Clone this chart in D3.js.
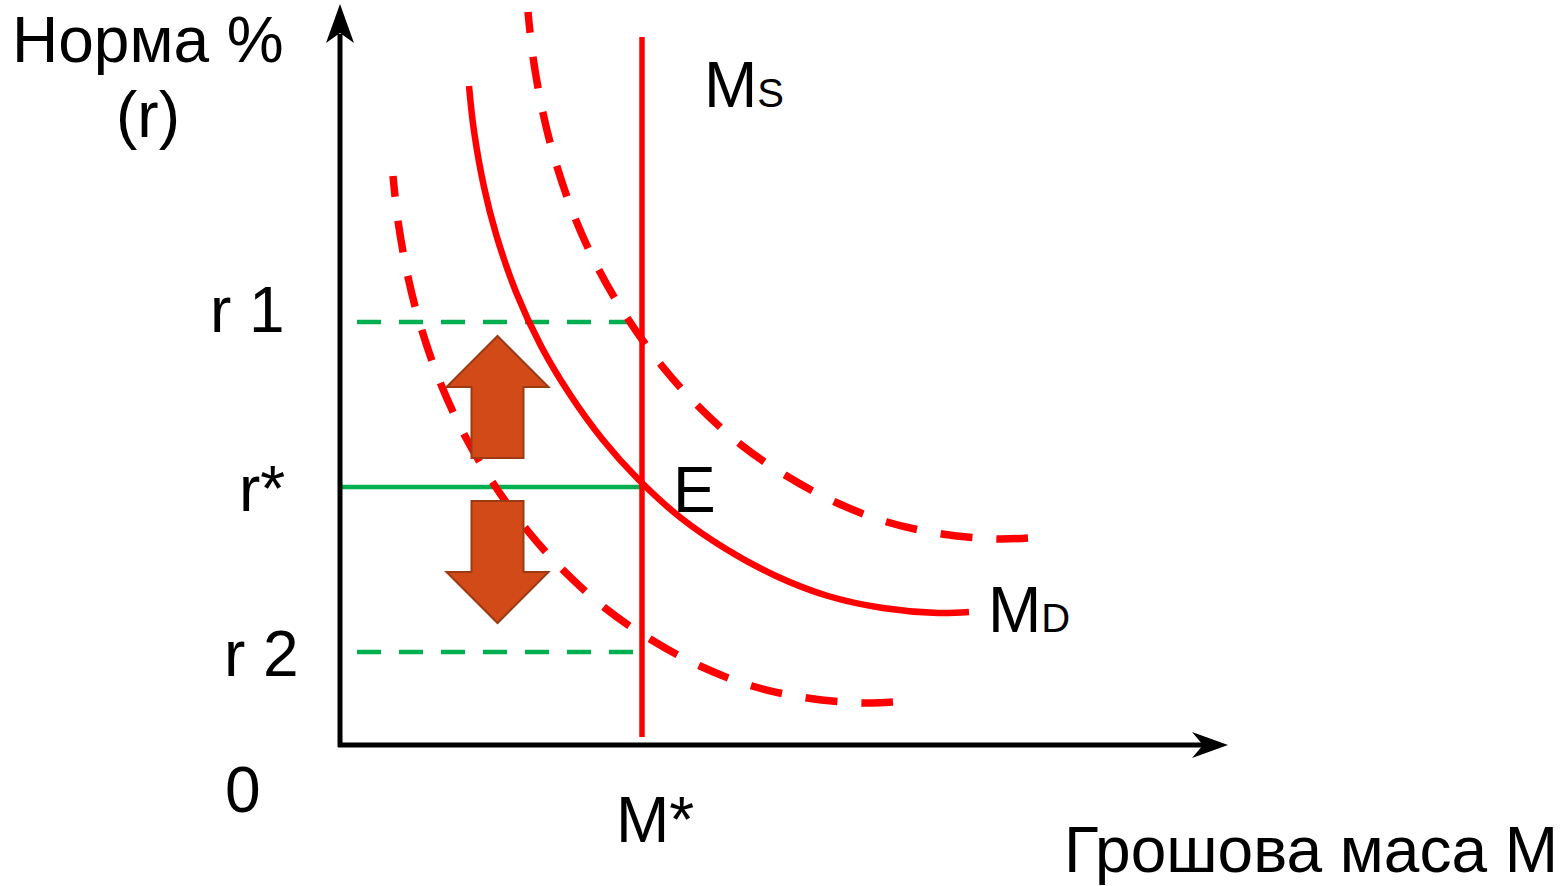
<!DOCTYPE html>
<meta charset="utf-8">
<style>

body {
  margin: 0;
  background: #fff;
}

svg {
  font-family: "Liberation Sans", Arial, sans-serif;
}

</style>
<svg width="1563" height="886"></svg>
<script src="https://d3js.org/d3.v7.min.js"></script>
<script>

// curves: [money, rate]
var demand = [
  [129, 659], [134, 614], [144, 558], [156, 511], [176, 453], [201, 399],
  [229, 352], [263, 305], [298, 266], [341, 227], [386, 196], [436, 169],
  [488, 149], [543, 137], [598, 132], [629, 133]
];

var demandHigh = [
  [188, 733], [193, 688], [203, 632], [215, 585], [235, 527], [260, 473],
  [288, 426], [322, 379], [357, 340], [400, 301], [445, 270], [495, 243],
  [547, 223], [602, 211], [657, 206], [688, 207]
];

var demandLow = [
  [53, 569], [58, 524], [68, 468], [80, 421], [100, 363], [125, 309],
  [153, 262], [187, 215], [222, 176], [265, 137], [310, 106], [360, 79],
  [412, 59], [467, 47], [522, 42], [553, 43]
];

var moneyStar = 302,
    supplyFrom = 8,
    supplyTo = 708;

var rateNames = ["r 1", "r*", "r 2"],
    rateValues = [423, 258, 93],
    rateFrom = [17, 2, 17],
    rateTo = [292, 302, 293],
    rateDashed = [true, false, true];

// block arrows: money position, start rate, end rate
var shifts = [
  [157.5, 287, 409],
  [157.5, 244, 122]
];

var svg = d3.select("svg");

var x = d3.scaleLinear().domain([0, 888]).range([340, 1228]),
    y = d3.scaleLinear().domain([0, 740]).range([745, 5]);

var line = d3.line()
    .x(function(d) { return x(d[0]); })
    .y(function(d) { return y(d[1]); })
    .curve(d3.curveCatmullRom.alpha(0.5));

// rate lines
svg.selectAll(".rate")
  .data(rateValues)
  .enter().append("line")
    .attr("class", "rate")
    .attr("x1", function(d, i) { return x(rateFrom[i]); })
    .attr("x2", function(d, i) { return x(rateTo[i]); })
    .attr("y1", function(d) { return y(d); })
    .attr("y2", function(d) { return y(d); })
    .attr("stroke", "#00b050")
    .attr("stroke-width", 4.5)
    .attr("stroke-dasharray", function(d, i) { return rateDashed[i] ? "24,18" : null; });

// shifted demand curves
svg.selectAll(".shift")
  .data([demandHigh, demandLow])
  .enter().append("path")
    .attr("class", "shift")
    .attr("d", line)
    .attr("fill", "none")
    .attr("stroke", "#ff0000")
    .attr("stroke-width", 7.5)
    .attr("stroke-dasharray", "32,24")
    .attr("stroke-dashoffset", 11);

svg.append("path")
    .attr("d", line(demand))
    .attr("fill", "none")
    .attr("stroke", "#ff0000")
    .attr("stroke-width", 6.5);

svg.append("line")
    .attr("x1", x(moneyStar))
    .attr("x2", x(moneyStar))
    .attr("y1", y(supplyFrom))
    .attr("y2", y(supplyTo))
    .attr("stroke", "#ff0000")
    .attr("stroke-width", 5.5);

// block arrows
svg.selectAll(".arrow")
  .data(shifts)
  .enter().append("path")
    .attr("class", "arrow")
    .attr("d", function(d) {
      var cx = x(d[0]), y0 = y(d[1]), y1 = y(d[2]),
          dir = y1 > y0 ? 1 : -1,
          hb = y1 - dir * 51;
      return "M" + (cx - 26) + "," + y0 + "L" + (cx - 26) + "," + hb +
        "L" + (cx - 51) + "," + hb + "L" + cx + "," + y1 +
        "L" + (cx + 51) + "," + hb + "L" + (cx + 26) + "," + hb +
        "L" + (cx + 26) + "," + y0 + "Z";
    })
    .attr("fill", "#d14a18")
    .attr("stroke", "#9c3a16")
    .attr("stroke-width", 2);

// axes
var x0 = x(0), y0 = y(0), xEnd = x(888), yEnd = y(741);

svg.append("line")
    .attr("x1", x0).attr("y1", y0 + 2)
    .attr("x2", x0).attr("y2", yEnd + 30)
    .attr("stroke", "#000")
    .attr("stroke-width", 5);

svg.append("path")
    .attr("d", "M" + x0 + "," + yEnd + "L" + (x0 + 14) + "," + (yEnd + 39) +
      "L" + x0 + "," + (yEnd + 29) + "L" + (x0 - 14) + "," + (yEnd + 39) + "Z");

svg.append("line")
    .attr("x1", x0 - 2).attr("y1", y0)
    .attr("x2", xEnd - 25).attr("y2", y0)
    .attr("stroke", "#000")
    .attr("stroke-width", 5);

svg.append("path")
    .attr("d", "M" + xEnd + "," + y0 + "L" + (xEnd - 36) + "," + (y0 - 13) +
      "L" + (xEnd - 25) + "," + y0 + "L" + (xEnd - 36) + "," + (y0 + 13) + "Z");

// labels
var big = 64, small = 40;

svg.append("text")
    .attr("x", 12).attr("y", 62)
    .attr("font-size", big)
    .text("Норма %");

svg.append("text")
    .attr("x", 116).attr("y", 137)
    .attr("font-size", big)
    .text("(r)");

var rateLabelX = [210, 239, 224],
    rateLabelDy = [10, 24, 24];

svg.selectAll(".rlabel")
  .data(rateNames)
  .enter().append("text")
    .attr("class", "rlabel")
    .attr("x", function(d, i) { return rateLabelX[i]; })
    .attr("y", function(d, i) { return y(rateValues[i]) + rateLabelDy[i]; })
    .attr("font-size", big)
    .text(function(d) { return d; });

svg.append("text")
    .attr("x", 225).attr("y", 812)
    .attr("font-size", big)
    .text("0");

svg.append("text")
    .attr("x", x(moneyStar) - 26).attr("y", 842)
    .attr("font-size", big)
    .text("M*");

svg.append("text")
    .attr("x", 1064).attr("y", 872)
    .attr("font-size", big)
    .text("Грошова маса М");

svg.append("text")
    .attr("x", x(moneyStar) + 31).attr("y", 512)
    .attr("font-size", big)
    .text("E");

var ms = svg.append("text")
    .attr("x", 704).attr("y", 107)
    .attr("font-size", big)
    .text("M");
ms.append("tspan").attr("font-size", small).text("S");

var md = svg.append("text")
    .attr("x", 988).attr("y", 632)
    .attr("font-size", big)
    .text("M");
md.append("tspan").attr("font-size", small).text("D");

</script>
